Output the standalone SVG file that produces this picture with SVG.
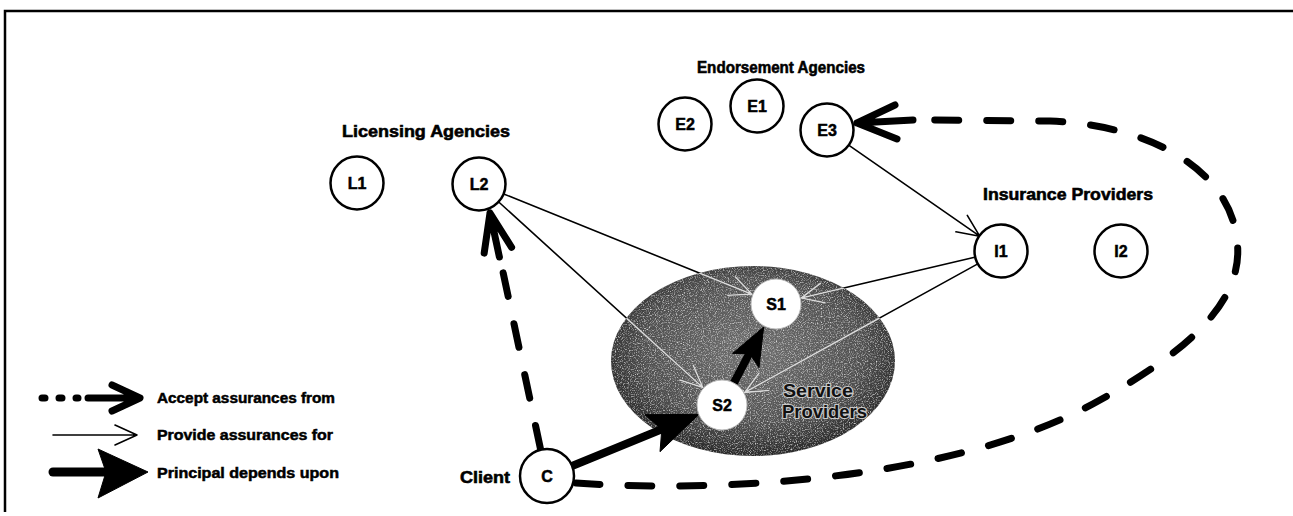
<svg xmlns="http://www.w3.org/2000/svg" width="1293" height="516" viewBox="0 0 1293 516">
<style>
.lbl{font-family:"Liberation Sans",Arial,sans-serif;font-weight:bold;font-size:17px;fill:#000;stroke:#000;stroke-width:0.6}
.leg{font-family:"Liberation Sans",Arial,sans-serif;font-weight:bold;font-size:14.5px;fill:#000;stroke:#000;stroke-width:0.5}
.nt{font-family:"Liberation Sans",Arial,sans-serif;font-weight:bold;font-size:16px;text-anchor:middle;fill:#000;stroke:#000;stroke-width:0.5}
.node{fill:#fff;stroke:#000;stroke-width:2.5}
.snode{fill:#fff;stroke:#bbb;stroke-width:1}
.thin{fill:none;stroke-width:1.6;stroke-linecap:round;stroke-linejoin:round}
.dash{fill:none;stroke:#000;stroke-width:7;stroke-linecap:round;stroke-dasharray:24 28}
.chev{fill:none;stroke:#000;stroke-width:7;stroke-linecap:round;stroke-linejoin:round}
.shaft{fill:none;stroke:#000;stroke-width:8;stroke-linecap:round}
.head{fill:#000;stroke:#000;stroke-width:1;stroke-linejoin:round}
.sp{font-family:"Liberation Sans",Arial,sans-serif;font-weight:bold;font-size:18px;fill:#111;stroke:#c8c8c8;stroke-width:2.2;paint-order:stroke}
</style>
<defs>
<radialGradient id="ellGrad" cx="0.5" cy="0.45" r="0.55">
<stop offset="0" stop-color="#707070"/>
<stop offset="0.7" stop-color="#505050"/>
<stop offset="1" stop-color="#2a2a2a"/>
</radialGradient>
<filter id="grain" x="0" y="0" width="100%" height="100%">
<feTurbulence type="fractalNoise" baseFrequency="0.85" numOctaves="2" seed="5"/>
<feColorMatrix type="matrix" values="0 0 0 0 0.82  0 0 0 0 0.82  0 0 0 0 0.82  0 0 0 2.2 -1.05"/>
<feComposite in2="SourceGraphic" operator="in"/>
</filter>
<clipPath id="ellClip"><ellipse cx="753" cy="361" rx="142" ry="95"/></clipPath>
<g id="thinset">
<path d="M503.1 193.7 L751.9 294.3 M727.75 295.3 L751.9 294.3 L735.25 276.8"/>
<path d="M498.2 201.5 L702.8 387.5 M679.8 380.1 L702.8 387.5 L693.2 365.3"/>
<path d="M848.3 144.8 L979.7 236.2 M955.9 231.8 L979.7 236.2 L967.3 215.4"/>
<path d="M975.7 257 L801.3 298 M820.4 283.3 L801.3 298 L825 302.7"/>
<path d="M978.2 263.6 L744.7 392.4 M759.1 373.05 L744.7 392.4 L768.8 390.55"/>
</g>
</defs>

<rect x="0" y="0" width="1293" height="516" fill="#fff"/>
<g id="frame" fill="none" stroke="#000" stroke-width="2.5">
<path d="M1293 11 L5 11 L5 512"/>
</g>

<g id="service-area">
<ellipse cx="753" cy="361" rx="142" ry="95" fill="url(#ellGrad)"/>
<ellipse cx="753" cy="361" rx="142" ry="95" fill="#000" filter="url(#grain)"/>
<text class="sp" x="783" y="397" textLength="70" lengthAdjust="spacingAndGlyphs">Service</text>
<text class="sp" x="782" y="418" textLength="85" lengthAdjust="spacingAndGlyphs">Providers</text>
</g>

<g id="connectors">
<use href="#thinset" class="thin" stroke="#000"/>
<use href="#thinset" class="thin" stroke="#dadada" clip-path="url(#ellClip)"/>
<path class="shaft" d="M734.3 382.1 L748 356"/>
<path class="head" d="M763.7 327 L759 367.6 L749.5 353.5 L732.6 353.4 Z"/>
<path class="shaft" d="M572 466 L660 430"/>
<path class="head" d="M698.8 414.4 L660 451.7 L661.8 429.4 L645 414.7 Z"/>
<path class="dash" d="M540.5 449 L503 272"/>
<path class="chev" d="M499.4 257 L490 213 M511.6 247.3 L490 213 L484.2 253.1"/>
<path class="dash" d="M576 483 C700 492 950 485 1100 400 C1190 350 1245 300 1237 240 C1230 170 1150 125 1050 121 L925 120"/>
<path class="chev" d="M913 120 L857 123 M895 105 L857 123 L897 139"/>
</g>

<g id="labels">
<text class="lbl" x="342" y="137" textLength="168" lengthAdjust="spacingAndGlyphs">Licensing Agencies</text>
<text class="lbl" x="697" y="73" textLength="168" lengthAdjust="spacingAndGlyphs">Endorsement Agencies</text>
<text class="lbl" x="983" y="200" textLength="170" lengthAdjust="spacingAndGlyphs">Insurance Providers</text>
<text class="lbl" x="460" y="483" textLength="50" lengthAdjust="spacingAndGlyphs">Client</text>
</g>

<g id="node-L1"><circle class="node" cx="357" cy="183" r="26.5"/><text class="nt" x="357" y="189">L1</text></g>
<g id="node-L2"><circle class="node" cx="479" cy="184" r="26.5"/><text class="nt" x="479" y="190">L2</text></g>
<g id="node-E2"><circle class="node" cx="685" cy="124" r="26.5"/><text class="nt" x="685" y="130">E2</text></g>
<g id="node-E1"><circle class="node" cx="757" cy="106" r="26.5"/><text class="nt" x="757" y="112">E1</text></g>
<g id="node-E3"><circle class="node" cx="827" cy="130" r="26.5"/><text class="nt" x="827" y="136">E3</text></g>
<g id="node-I1"><circle class="node" cx="1001" cy="251" r="26.5"/><text class="nt" x="1001" y="257">I1</text></g>
<g id="node-I2"><circle class="node" cx="1121" cy="251" r="26.5"/><text class="nt" x="1121" y="257">I2</text></g>
<g id="node-S1"><circle class="snode" cx="776" cy="304" r="25"/><text class="nt" x="776" y="310">S1</text></g>
<g id="node-S2"><circle class="snode" cx="722" cy="405" r="25"/><text class="nt" x="722" y="411">S2</text></g>
<g id="node-C"><circle class="node" cx="547" cy="476" r="27"/><text class="nt" x="547" y="482">C</text></g>

<g id="legend">
<path class="dash" d="M42 398 L78 398" style="stroke-dasharray:3 14"/>
<path class="chev" d="M88 398 L138 398 M112 385 L140 398 L112 411"/>
<text class="leg" x="157" y="403" textLength="178" lengthAdjust="spacingAndGlyphs">Accept assurances from</text>
<path class="thin" stroke="#000" d="M53 435 L137 435 M115 425 L137 435 L115 445"/>
<text class="leg" x="157" y="440" textLength="176" lengthAdjust="spacingAndGlyphs">Provide assurances for</text>
<path class="shaft" style="stroke-width:9" d="M53 472 L104 472"/>
<path class="head" d="M148 472 L98 449 L106 472 L98 498 Z"/>
<text class="leg" x="157" y="478" textLength="182" lengthAdjust="spacingAndGlyphs">Principal depends upon</text>
</g>
</svg>
